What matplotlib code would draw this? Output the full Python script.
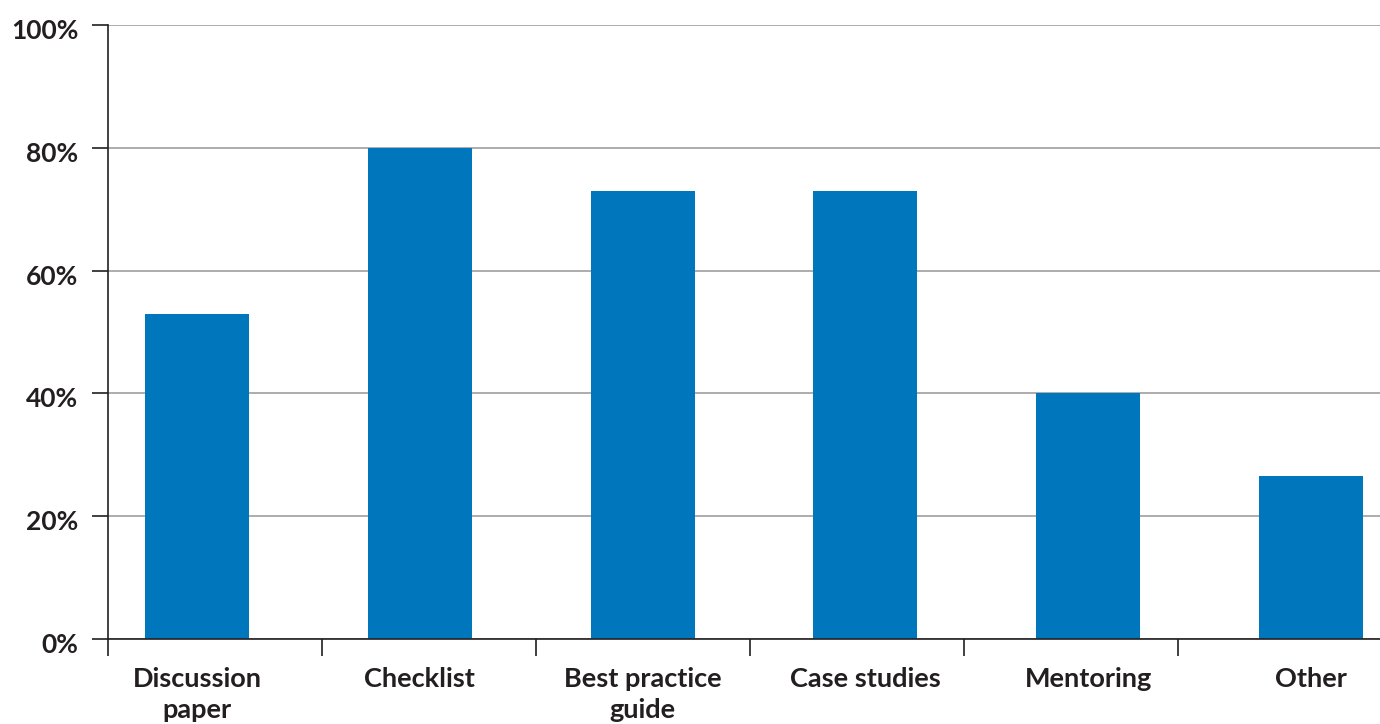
import numpy as np
import matplotlib.pyplot as plt
import matplotlib.transforms as mtransforms
from matplotlib.ticker import FixedLocator, PercentFormatter

categories = ['Discussion\npaper', 'Checklist', 'Best practice\nguide',
              'Case studies', 'Mentoring', 'Other']
shares = [53.0, 80.0, 73.0, 73.0, 40.0, 26.5]
y_ticks = [0, 20, 40, 60, 80, 100]

bar_color = '#0077bd'
text_color = '#231f20'

plt.rcParams['font.family'] = ['Lato', 'DejaVu Sans']
plt.rcParams['font.weight'] = 'bold'

fig = plt.figure(figsize=(13.8, 7.24), dpi=100)
# axes runs off the right edge, so the last slot is cut short
ax = fig.add_axes([108 / 1380, 85 / 724, 1272 / 1380, 614 / 724])

x = np.arange(len(categories))
ax.bar(x, shares, width=0.467, color=bar_color, zorder=3)

ax.set_xlim(-0.40, 5.31)
ax.set_ylim(0, 100)

ax.set_yticks(y_ticks)
ax.yaxis.set_major_formatter(PercentFormatter(decimals=0))
ax.yaxis.grid(True, color='#a6a6a6', linewidth=1.3, zorder=0)

ax.set_xticks(x)
ax.set_xticklabels(categories, fontsize=19.5, fontweight='bold',
                   color=text_color, linespacing=1.35)
# separators between the category slots
slot = 0.9605
ax.xaxis.set_minor_locator(FixedLocator(-0.40 + slot * np.arange(0, 6)))
ax.tick_params(axis='x', which='major', length=0, pad=20)
ax.tick_params(axis='x', which='minor', length=12.5, width=1.2,
               color=text_color, direction='out')
ax.tick_params(axis='y', length=11.5, width=1.2, color=text_color,
               direction='out', pad=10, labelsize=19, labelcolor=text_color)

# percent labels sit a little below their ticks
shift = mtransforms.ScaledTranslation(0, -4 / 100, fig.dpi_scale_trans)
for lbl in ax.get_yticklabels():
    lbl.set_transform(lbl.get_transform() + shift)

for side in ['top', 'right']:
    ax.spines[side].set_visible(False)
for side in ['left', 'bottom']:
    ax.spines[side].set_color(text_color)
    ax.spines[side].set_linewidth(1.2)
    ax.spines[side].set_zorder(4)

fig.savefig('out.png', dpi=100, facecolor='white')
